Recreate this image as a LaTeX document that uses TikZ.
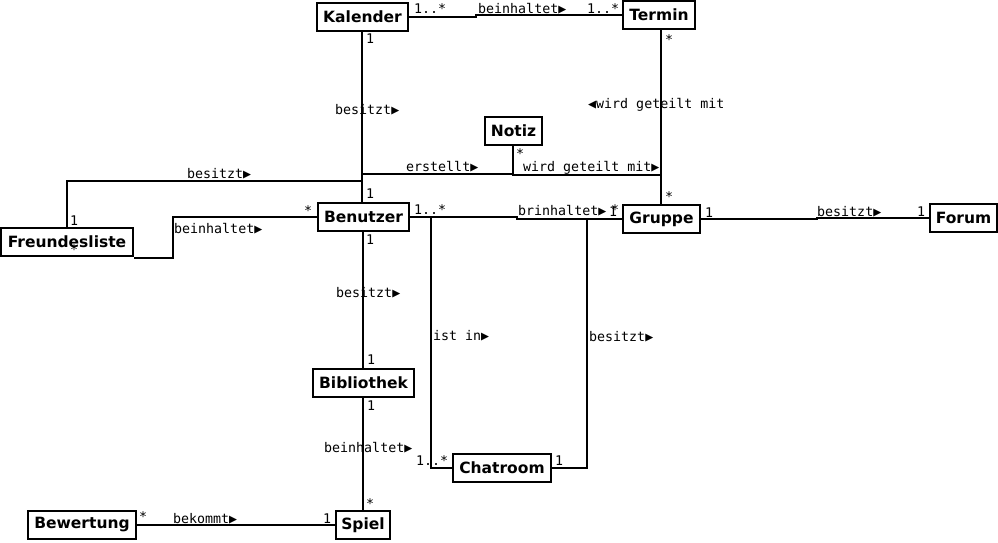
\documentclass[tikz,border=0pt]{standalone}
\usepackage{fontspec}
\newfontfamily\boxfont{DejaVu Sans}
\newfontfamily\lblfont{DejaVu Sans Mono}
\begin{document}
\begin{tikzpicture}[x=1pt,y=-1pt,
  cls/.style={draw,line width=2pt,fill=white,inner sep=0pt,minimum height=28pt,font=\boxfont\bfseries\fontsize{15.5}{17}\selectfont},
  conn/.style={line width=2pt},
  lbl/.style={anchor=base west,inner sep=0pt,font=\lblfont\fontsize{13.3}{15}\selectfont}]
\useasboundingbox (0,0) rectangle (998,542);
% classes
\node[cls,minimum width=91pt] (Kalender) at (362.5,17) {Kalender};
\node[cls,minimum width=72pt] (Termin) at (659,15) {Termin};
\node[cls,minimum width=57pt] (Notiz) at (513.5,131) {Notiz};
\node[cls,minimum width=91pt] (Benutzer) at (363.5,217) {Benutzer};
\node[cls,minimum width=77pt] (Gruppe) at (661.5,219) {Gruppe};
\node[cls,minimum width=67pt] (Forum) at (963.5,218) {Forum};
\node[cls,minimum width=132pt] (Freundesliste) at (67,242) {Freundesliste};
\node[cls,minimum width=101pt] (Bibliothek) at (363.5,383) {Bibliothek};
\node[cls,minimum width=98pt] (Chatroom) at (502,468) {Chatroom};
\node[cls,minimum width=108pt] (Bewertung) at (82,525) {Bewertung};
\node[cls,minimum width=54pt] (Spiel) at (363,525) {Spiel};
% helper coordinates
\coordinate (fb) at (362,181);
\coordinate (en) at (513,174);
\coordinate (bi) at (431,217);
\coordinate (gc) at (587,219);
\coordinate (tg) at (661,0);
% connectors
\draw[conn] (Kalender.east) -- ++(67,0) -- ++(0,-2) -- (Termin.west);
\draw[conn] (Kalender.south -| fb) -- (Benutzer.north -| fb);
\draw[conn] (Freundesliste.north) |- (fb);
\draw[conn] (en |- Notiz.south) -- (en);
\draw[conn] (en -| fb) -- (en);
\draw[conn] (en) -- ++(0,1) -- (tg |- 0,175);
\draw[conn] (tg |- Termin.south) -- (tg |- Gruppe.north);
\draw[conn] ([yshift=-1pt]Freundesliste.south east) -- ++(39,0) |- (Benutzer.west);
\draw[conn] (Benutzer.east) -- ++(107,0) -- ++(0,2) -- (Gruppe.west);
\draw[conn] (bi) |- (Chatroom.west);
\draw[conn] (gc) |- (Chatroom.east);
\draw[conn] (Gruppe.east) -- ++(116,0) -- ++(0,-1) -- (Forum.west);
\draw[conn] (Benutzer.south -| Spiel.north) -- (Bibliothek.north -| Spiel.north);
\draw[conn] (Bibliothek.south -| Spiel.north) -- (Spiel.north);
\draw[conn] (Bewertung.east) -- (Spiel.west);
% labels
\node[lbl] at (414,13) {1..*};
\node[lbl] at (478,13) {beinhaltet▶};
\node[lbl] at (587,13) {1..*};
\node[lbl] at (366,43) {1};
\node[lbl] at (335,114) {besitzt▶};
\node[lbl] at (665,44) {*};
\node[lbl] at (588,108) {◀wird geteilt mit};
\node[lbl] at (516,158) {*};
\node[lbl] at (406,171) {erstellt▶};
\node[lbl] at (523,171) {wird geteilt mit▶};
\node[lbl] at (366,198) {1};
\node[lbl] at (665,201) {*};
\node[lbl] at (187,178) {besitzt▶};
\node[lbl] at (70,225) {1};
\node[lbl] at (70,254) {*};
\node[lbl] at (174,233) {beinhaltet▶};
\node[lbl] at (304,215) {*};
\node[lbl] at (414,214) {1..*};
\node[lbl] at (366,244) {1};
\node[lbl] at (518,215) {brinhaltet▶};
\node[lbl] at (609,216) {1};
\node[lbl] at (611,214) {*};
\node[lbl] at (705,217) {1};
\node[lbl] at (817,216) {besitzt▶};
\node[lbl] at (917,216) {1};
\node[lbl] at (336,297) {besitzt▶};
\node[lbl] at (367,364) {1};
\node[lbl] at (433,340) {ist in▶};
\node[lbl] at (589,341) {besitzt▶};
\node[lbl] at (367,410) {1};
\node[lbl] at (324,452) {beinhaltet▶};
\node[lbl] at (416,465) {1..*};
\node[lbl] at (555,465) {1};
\node[lbl] at (366,508) {*};
\node[lbl] at (323,523) {1};
\node[lbl] at (139,521) {*};
\node[lbl] at (173,523) {bekommt▶};
\end{tikzpicture}
\end{document}
